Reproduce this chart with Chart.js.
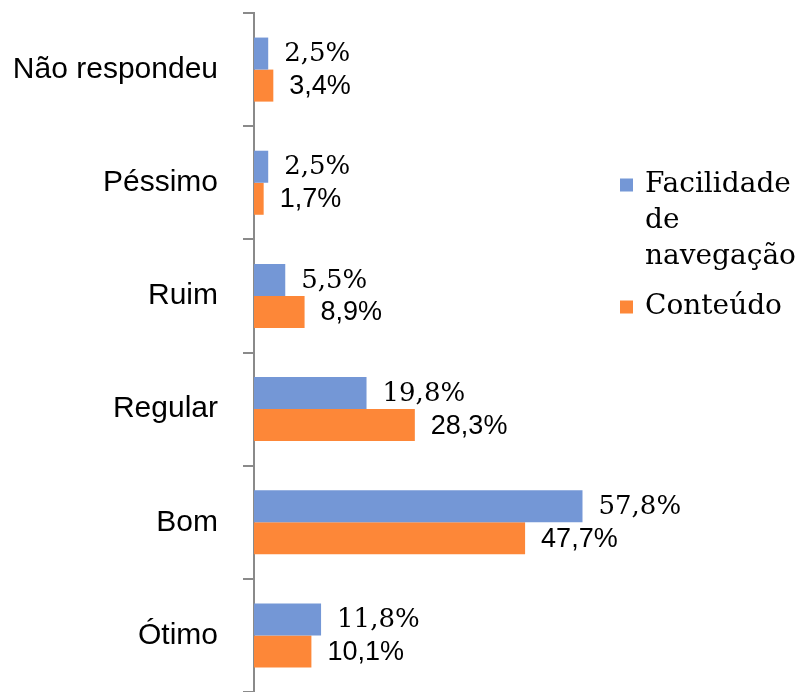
<!DOCTYPE html>
<html>
<head>
<meta charset="utf-8">
<script src="https://cdn.jsdelivr.net/npm/chart.js@4.4.1/dist/chart.umd.min.js"></script>
<style>
html,body{margin:0;padding:0;background:#fff;}
#wrap{width:800px;height:692px;}
</style>
</head>
<body>
<div id="wrap"><canvas id="c" width="800" height="692"></canvas></div>
<script>
const categories = ['Não respondeu', 'Péssimo', 'Ruim', 'Regular', 'Bom', 'Ótimo'];
const facilidade = [2.5, 2.5, 5.5, 19.8, 57.8, 11.8];
const conteudo = [3.4, 1.7, 8.9, 28.3, 47.7, 10.1];
const seriesNames = ['Facilidade de navegação', 'Conteúdo'];

const BLUE = '#7497d6';
const ORANGE = '#fd8738';
const AXIS = '#8a8a8a';

function fmt(v){ return v.toFixed(1).replace('.', ',') + '%'; }

const valueLabels = {
  id: 'valueLabels',
  afterDatasetsDraw(chart){
    const ctx = chart.ctx;
    ctx.save();
    chart.data.datasets.forEach((ds, di) => {
      const meta = chart.getDatasetMeta(di);
      ctx.font = di === 0 ? '26px "DejaVu Serif"' : '27px "Liberation Sans"';
      ctx.fillStyle = '#000';
      ctx.textAlign = 'left';
      ctx.textBaseline = 'middle';
      meta.data.forEach((bar, i) => {
        ctx.fillText(fmt(ds.data[i]), bar.x + 16, bar.y + 1);
      });
    });
    ctx.restore();
  }
};

const customLegend = {
  id: 'customLegend',
  afterDraw(chart){
    const ctx = chart.ctx;
    ctx.save();
    ctx.font = '28px "DejaVu Serif"';
    ctx.fillStyle = '#000';
    ctx.textBaseline = 'middle';
    ctx.textAlign = 'left';
    const boxX = 620, textX = 645, maxW = 158, lineH = 36, itemGap = 50, box = 13;
    let y = 185;
    chart.data.datasets.forEach((ds, di) => {
      const words = ds.label.split(' ');
      const lines = [];
      let cur = '';
      words.forEach(w => {
        const t = cur ? cur + ' ' + w : w;
        if (cur && ctx.measureText(t).width > maxW) { lines.push(cur); cur = w; }
        else cur = t;
      });
      if (cur) lines.push(cur);
      ctx.fillStyle = ds.backgroundColor;
      ctx.fillRect(boxX, y - box/2, box, box);
      ctx.fillStyle = '#000';
      lines.forEach((ln, li) => {
        ctx.fillText(ln, textX, y + li * lineH);
      });
      y += (lines.length - 1) * lineH + itemGap;
    });
    ctx.restore();
  }
};

new Chart(document.getElementById('c'), {
  type: 'bar',
  data: {
    labels: categories,
    datasets: [
      { label: seriesNames[0], data: facilidade, backgroundColor: BLUE, categoryPercentage: 0.566, barPercentage: 1.0 },
      { label: seriesNames[1], data: conteudo, backgroundColor: ORANGE, categoryPercentage: 0.566, barPercentage: 1.0 }
    ]
  },
  options: {
    indexAxis: 'y',
    responsive: false,
    animation: false,
    devicePixelRatio: 1,
    layout: { padding: { top: 13, bottom: 0, left: 0, right: 205 } },
    plugins: { legend: { display: false }, tooltip: { enabled: false } },
    scales: {
      x: { display: false, min: 0, max: 60 },
      y: {
        grid: { drawOnChartArea: false, drawTicks: true, tickLength: 11, color: AXIS, lineWidth: 2, offset: true },
        border: { display: true, color: AXIS, width: 2 },
        ticks: { color: '#000', font: { family: '"Liberation Sans", Arial, sans-serif', size: 30 }, padding: 25 },
        afterFit(scale){ scale.width = 254; scale.paddingTop = 0; scale.paddingBottom = 0; }
      }
    }
  },
  plugins: [valueLabels, customLegend]
});
</script>
</body>
</html>
